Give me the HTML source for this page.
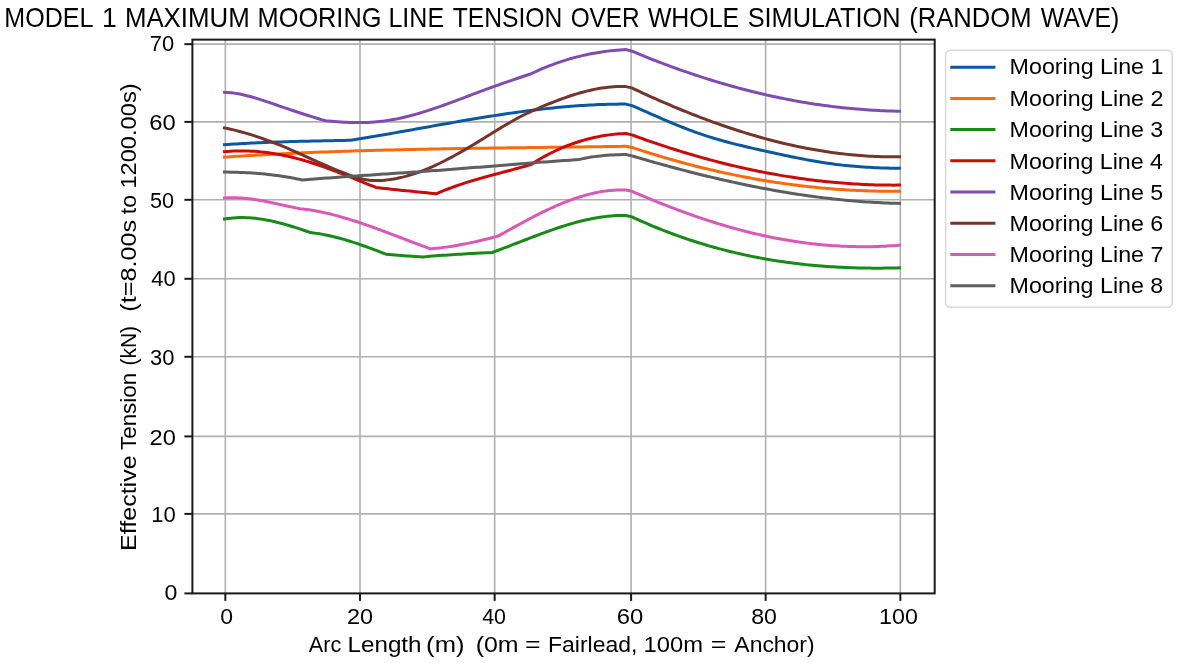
<!DOCTYPE html>
<html><head><meta charset="utf-8"><title>Model 1 maximum mooring line tension</title>
<style>
html,body{margin:0;padding:0;background:#fff;}
body{width:1181px;height:663px;overflow:hidden;}
svg{display:block;}
text{font-family:"Liberation Sans", sans-serif;fill:#000;white-space:pre;}
</style></head><body>
<svg width="1181" height="663" viewBox="0 0 1181 663">
<defs><filter id="b" x="0" y="0" width="1" height="1" color-interpolation-filters="sRGB"><feOffset dx="0" dy="0"/></filter></defs>
<g filter="url(#b)">
<rect width="1181" height="663" fill="#fff"/>
<g stroke="#b0b0b0" stroke-width="1.6"><line x1="225.33" y1="39.64" x2="225.33" y2="593.4"/><line x1="359.99" y1="39.64" x2="359.99" y2="593.4"/><line x1="494.65" y1="39.64" x2="494.65" y2="593.4"/><line x1="631.1" y1="39.64" x2="631.1" y2="593.4"/><line x1="765.63" y1="39.64" x2="765.63" y2="593.4"/><line x1="900.33" y1="39.64" x2="900.33" y2="593.4"/><line x1="192.4" y1="513.9" x2="934.7" y2="513.9"/><line x1="192.4" y1="436.4" x2="934.7" y2="436.4"/><line x1="192.4" y1="356.8" x2="934.7" y2="356.8"/><line x1="192.4" y1="278.8" x2="934.7" y2="278.8"/><line x1="192.4" y1="199.8" x2="934.7" y2="199.8"/><line x1="192.4" y1="121.9" x2="934.7" y2="121.9"/><line x1="192.4" y1="44.16" x2="934.7" y2="44.16"/></g>
<g fill="none" stroke-width="3.0" stroke-linejoin="round" stroke-linecap="square">
<path stroke="#0a58a4" d="M224.50,144.70 L227.50,144.49 L230.51,144.29 L233.51,144.09 L236.52,143.91 L239.52,143.73 L242.53,143.56 L245.53,143.39 L248.54,143.23 L251.54,143.08 L254.55,142.94 L257.55,142.80 L260.56,142.67 L263.56,142.54 L266.57,142.42 L269.57,142.30 L272.58,142.19 L275.58,142.08 L278.59,141.98 L281.59,141.88 L284.60,141.79 L287.60,141.70 L290.60,141.61 L293.61,141.53 L296.61,141.45 L299.62,141.37 L302.62,141.30 L305.63,141.23 L308.63,141.16 L311.64,141.09 L314.64,141.03 L317.65,140.96 L320.65,140.90 L323.66,140.84 L326.66,140.78 L329.67,140.72 L332.67,140.66 L335.68,140.60 L338.68,140.54 L341.69,140.48 L344.69,140.42 L347.70,140.36 L350.70,140.30 L353.72,139.82 L356.75,139.33 L359.77,138.83 L362.79,138.33 L365.82,137.83 L368.84,137.32 L371.86,136.81 L374.88,136.30 L377.91,135.78 L380.93,135.26 L383.95,134.73 L386.98,134.20 L390.00,133.67 L393.02,133.14 L396.05,132.61 L399.07,132.07 L402.09,131.53 L405.12,130.99 L408.14,130.45 L411.16,129.91 L414.18,129.37 L417.21,128.83 L420.23,128.29 L423.25,127.75 L426.28,127.21 L429.30,126.66 L432.32,126.12 L435.35,125.59 L438.37,125.05 L441.39,124.51 L444.42,123.98 L447.44,123.44 L450.46,122.91 L453.48,122.39 L456.51,121.86 L459.53,121.34 L462.55,120.82 L465.58,120.30 L468.60,119.79 L471.62,119.28 L474.65,118.78 L477.67,118.28 L480.69,117.79 L483.72,117.30 L486.74,116.81 L489.76,116.33 L492.78,115.86 L495.81,115.39 L498.83,114.93 L501.85,114.47 L504.88,114.02 L507.90,113.58 L510.92,113.14 L513.95,112.71 L516.97,112.29 L519.99,111.88 L523.02,111.48 L526.04,111.08 L529.06,110.69 L532.08,110.31 L535.11,109.94 L538.13,109.58 L541.15,109.22 L544.18,108.88 L547.20,108.55 L550.22,108.22 L553.25,107.91 L556.27,107.61 L559.29,107.31 L562.32,107.03 L565.34,106.76 L568.36,106.51 L571.38,106.26 L574.41,106.03 L577.43,105.80 L580.45,105.59 L583.48,105.40 L586.50,105.21 L589.52,105.04 L592.55,104.88 L595.57,104.74 L598.59,104.61 L601.62,104.49 L604.64,104.39 L607.66,104.30 L610.68,104.23 L613.71,104.17 L616.73,104.13 L619.75,104.11 L622.78,104.09 L625.80,104.10 L632.00,105.60 L635.00,106.91 L638.01,108.23 L641.01,109.56 L644.02,110.88 L647.02,112.20 L650.03,113.52 L653.03,114.84 L656.04,116.16 L659.04,117.46 L662.04,118.76 L665.05,120.05 L668.05,121.33 L671.06,122.59 L674.06,123.84 L677.07,125.08 L680.07,126.29 L683.08,127.49 L686.08,128.66 L689.09,129.81 L692.09,130.94 L695.09,132.04 L698.10,133.11 L701.10,134.16 L704.11,135.17 L707.11,136.15 L710.12,137.11 L713.12,138.03 L716.13,138.93 L719.13,139.80 L722.13,140.65 L725.14,141.48 L728.14,142.29 L731.15,143.08 L734.15,143.84 L737.16,144.60 L740.16,145.33 L743.17,146.06 L746.17,146.77 L749.18,147.47 L752.18,148.16 L755.18,148.84 L758.19,149.51 L761.19,150.18 L764.20,150.85 L767.20,151.51 L770.21,152.17 L773.21,152.83 L776.22,153.48 L779.22,154.13 L782.22,154.78 L785.23,155.41 L788.23,156.04 L791.24,156.66 L794.24,157.28 L797.25,157.88 L800.25,158.47 L803.26,159.05 L806.26,159.62 L809.27,160.17 L812.27,160.71 L815.27,161.24 L818.28,161.74 L821.28,162.23 L824.29,162.71 L827.29,163.16 L830.30,163.59 L833.30,164.01 L836.31,164.40 L839.31,164.77 L842.31,165.12 L845.32,165.44 L848.32,165.75 L851.33,166.03 L854.33,166.30 L857.34,166.54 L860.34,166.77 L863.35,166.98 L866.35,167.17 L869.36,167.35 L872.36,167.51 L875.36,167.65 L878.37,167.78 L881.37,167.89 L884.38,167.99 L887.38,168.08 L890.39,168.15 L893.39,168.21 L896.40,168.26 L899.40,168.30"/>
<path stroke="#ff6a08" d="M224.50,157.10 L227.52,156.90 L230.53,156.71 L233.55,156.51 L236.57,156.32 L239.59,156.14 L242.60,155.96 L245.62,155.78 L248.64,155.60 L251.66,155.42 L254.67,155.25 L257.69,155.08 L260.71,154.92 L263.72,154.75 L266.74,154.59 L269.76,154.43 L272.78,154.28 L275.79,154.13 L278.81,153.98 L281.83,153.83 L284.85,153.68 L287.86,153.54 L290.88,153.40 L293.90,153.26 L296.92,153.13 L299.93,152.99 L302.95,152.86 L305.97,152.73 L308.98,152.61 L312.00,152.48 L315.02,152.36 L318.04,152.24 L321.05,152.12 L324.07,152.01 L327.09,151.90 L330.11,151.78 L333.12,151.68 L336.14,151.57 L339.16,151.46 L342.17,151.36 L345.19,151.26 L348.21,151.16 L351.23,151.06 L354.24,150.97 L357.26,150.87 L360.28,150.78 L363.30,150.69 L366.31,150.60 L369.33,150.51 L372.35,150.43 L375.36,150.35 L378.38,150.26 L381.40,150.18 L384.42,150.10 L387.43,150.03 L390.45,149.95 L393.47,149.88 L396.49,149.80 L399.50,149.73 L402.52,149.66 L405.54,149.59 L408.55,149.53 L411.57,149.46 L414.59,149.40 L417.61,149.33 L420.62,149.27 L423.64,149.21 L426.66,149.15 L429.68,149.09 L432.69,149.03 L435.71,148.98 L438.73,148.92 L441.75,148.87 L444.76,148.81 L447.78,148.76 L450.80,148.71 L453.81,148.66 L456.83,148.61 L459.85,148.56 L462.87,148.51 L465.88,148.46 L468.90,148.41 L471.92,148.37 L474.94,148.32 L477.95,148.28 L480.97,148.23 L483.99,148.19 L487.00,148.15 L490.02,148.10 L493.04,148.06 L496.06,148.02 L499.07,147.98 L502.09,147.94 L505.11,147.90 L508.13,147.86 L511.14,147.82 L514.16,147.78 L517.18,147.74 L520.19,147.70 L523.21,147.67 L526.23,147.63 L529.25,147.59 L532.26,147.55 L535.28,147.51 L538.30,147.48 L541.32,147.44 L544.33,147.40 L547.35,147.37 L550.37,147.33 L553.38,147.29 L556.40,147.25 L559.42,147.21 L562.44,147.18 L565.45,147.14 L568.47,147.10 L571.49,147.06 L574.51,147.02 L577.52,146.98 L580.54,146.95 L583.56,146.91 L586.58,146.87 L589.59,146.83 L592.61,146.78 L595.63,146.74 L598.64,146.70 L601.66,146.66 L604.68,146.62 L607.70,146.57 L610.71,146.53 L613.73,146.48 L616.75,146.44 L619.77,146.39 L622.78,146.35 L625.80,146.30 L632.00,147.40 L635.00,148.40 L638.01,149.38 L641.01,150.35 L644.02,151.31 L647.02,152.26 L650.03,153.20 L653.03,154.13 L656.04,155.04 L659.04,155.95 L662.04,156.84 L665.05,157.73 L668.05,158.60 L671.06,159.46 L674.06,160.31 L677.07,161.14 L680.07,161.97 L683.08,162.78 L686.08,163.59 L689.09,164.38 L692.09,165.16 L695.09,165.93 L698.10,166.69 L701.10,167.44 L704.11,168.17 L707.11,168.90 L710.12,169.61 L713.12,170.31 L716.13,171.00 L719.13,171.68 L722.13,172.35 L725.14,173.00 L728.14,173.65 L731.15,174.28 L734.15,174.90 L737.16,175.51 L740.16,176.11 L743.17,176.70 L746.17,177.28 L749.18,177.84 L752.18,178.39 L755.18,178.93 L758.19,179.47 L761.19,179.98 L764.20,180.49 L767.20,180.99 L770.21,181.47 L773.21,181.94 L776.22,182.41 L779.22,182.85 L782.22,183.29 L785.23,183.72 L788.23,184.13 L791.24,184.54 L794.24,184.93 L797.25,185.31 L800.25,185.68 L803.26,186.04 L806.26,186.38 L809.27,186.72 L812.27,187.04 L815.27,187.35 L818.28,187.65 L821.28,187.94 L824.29,188.21 L827.29,188.48 L830.30,188.73 L833.30,188.97 L836.31,189.20 L839.31,189.42 L842.31,189.62 L845.32,189.82 L848.32,190.00 L851.33,190.17 L854.33,190.33 L857.34,190.47 L860.34,190.61 L863.35,190.73 L866.35,190.85 L869.36,190.95 L872.36,191.03 L875.36,191.11 L878.37,191.18 L881.37,191.23 L884.38,191.27 L887.38,191.30 L890.39,191.32 L893.39,191.32 L896.40,191.32 L899.40,191.30"/>
<path stroke="#168c16" d="M224.50,219.00 L227.57,218.53 L230.64,218.16 L233.71,217.88 L236.79,217.70 L239.86,217.60 L242.93,217.59 L246.00,217.66 L249.07,217.81 L252.14,218.03 L255.21,218.33 L258.29,218.70 L261.36,219.13 L264.43,219.63 L267.50,220.19 L270.57,220.80 L273.64,221.47 L276.71,222.19 L279.79,222.96 L282.86,223.77 L285.93,224.63 L289.00,225.52 L292.07,226.45 L295.14,227.41 L298.21,228.41 L301.29,229.42 L304.36,230.46 L307.43,231.52 L310.50,232.60 L313.52,232.96 L316.54,233.38 L319.56,233.85 L322.58,234.38 L325.60,234.96 L328.62,235.59 L331.64,236.27 L334.66,236.99 L337.68,237.76 L340.70,238.57 L343.72,239.42 L346.74,240.30 L349.76,241.23 L352.78,242.18 L355.80,243.16 L358.82,244.17 L361.84,245.21 L364.86,246.27 L367.88,247.36 L370.90,248.46 L373.92,249.58 L376.94,250.72 L379.96,251.87 L382.98,253.03 L386.00,254.20 L404.10,255.70 L423.40,256.90 L426.52,256.62 L429.65,256.35 L432.77,256.09 L435.89,255.84 L439.01,255.60 L442.14,255.37 L445.26,255.15 L448.38,254.93 L451.50,254.73 L454.63,254.53 L457.75,254.33 L460.87,254.15 L464.00,253.97 L467.12,253.79 L470.24,253.62 L473.36,253.45 L476.49,253.29 L479.61,253.12 L482.73,252.97 L485.85,252.81 L488.98,252.65 L492.10,252.50 L495.14,251.39 L498.19,250.26 L501.23,249.12 L504.27,247.96 L507.32,246.80 L510.36,245.63 L513.40,244.45 L516.45,243.27 L519.49,242.09 L522.53,240.91 L525.58,239.73 L528.62,238.56 L531.66,237.40 L534.70,236.24 L537.75,235.09 L540.79,233.96 L543.83,232.84 L546.88,231.73 L549.92,230.65 L552.96,229.59 L556.01,228.54 L559.05,227.53 L562.09,226.54 L565.14,225.58 L568.18,224.65 L571.22,223.75 L574.27,222.89 L577.31,222.06 L580.35,221.28 L583.40,220.53 L586.44,219.83 L589.48,219.17 L592.52,218.56 L595.57,218.00 L598.61,217.48 L601.65,217.02 L604.70,216.62 L607.74,216.27 L610.78,215.99 L613.83,215.76 L616.87,215.59 L619.91,215.50 L622.96,215.46 L626.00,215.50 L631.50,216.70 L634.51,218.10 L637.52,219.47 L640.53,220.83 L643.54,222.16 L646.55,223.47 L649.56,224.75 L652.57,226.02 L655.58,227.26 L658.59,228.49 L661.60,229.69 L664.61,230.86 L667.62,232.02 L670.63,233.16 L673.64,234.28 L676.65,235.37 L679.66,236.45 L682.67,237.50 L685.68,238.53 L688.69,239.55 L691.70,240.54 L694.71,241.51 L697.72,242.47 L700.73,243.40 L703.74,244.31 L706.75,245.21 L709.76,246.08 L712.77,246.94 L715.78,247.77 L718.79,248.59 L721.80,249.39 L724.81,250.17 L727.82,250.93 L730.83,251.67 L733.84,252.40 L736.85,253.10 L739.86,253.79 L742.87,254.46 L745.88,255.12 L748.89,255.75 L751.90,256.37 L754.91,256.97 L757.92,257.55 L760.93,258.12 L763.94,258.66 L766.96,259.19 L769.97,259.71 L772.98,260.21 L775.99,260.69 L779.00,261.15 L782.01,261.60 L785.02,262.03 L788.03,262.45 L791.04,262.85 L794.05,263.24 L797.06,263.61 L800.07,263.96 L803.08,264.30 L806.09,264.62 L809.10,264.93 L812.11,265.22 L815.12,265.50 L818.13,265.77 L821.14,266.01 L824.15,266.25 L827.16,266.47 L830.17,266.68 L833.18,266.87 L836.19,267.05 L839.20,267.21 L842.21,267.36 L845.22,267.50 L848.23,267.62 L851.24,267.73 L854.25,267.83 L857.26,267.91 L860.27,267.99 L863.28,268.04 L866.29,268.09 L869.30,268.12 L872.31,268.14 L875.32,268.15 L878.33,268.15 L881.34,268.14 L884.35,268.11 L887.36,268.07 L890.37,268.02 L893.38,267.96 L896.39,267.88 L899.40,267.80"/>
<path stroke="#cc0a0a" d="M224.50,151.70 L227.53,151.44 L230.56,151.23 L233.59,151.07 L236.62,150.96 L239.65,150.91 L242.68,150.90 L245.71,150.94 L248.74,151.04 L251.77,151.18 L254.80,151.37 L257.83,151.60 L260.86,151.88 L263.89,152.21 L266.92,152.58 L269.95,152.99 L272.98,153.45 L276.01,153.95 L279.04,154.49 L282.07,155.08 L285.10,155.70 L288.13,156.36 L291.16,157.06 L294.19,157.81 L297.22,158.58 L300.25,159.40 L303.28,160.25 L306.31,161.14 L309.34,162.06 L312.37,163.02 L315.40,164.01 L318.43,165.03 L321.46,166.08 L324.49,167.15 L327.52,168.25 L330.55,169.38 L333.58,170.52 L336.61,171.68 L339.64,172.85 L342.67,174.04 L345.70,175.25 L348.73,176.46 L351.76,177.68 L354.79,178.90 L357.82,180.13 L360.85,181.36 L363.88,182.59 L366.91,183.81 L369.94,185.02 L372.97,186.22 L376.00,187.40 L379.01,187.78 L382.03,188.15 L385.05,188.51 L388.06,188.86 L391.07,189.19 L394.09,189.52 L397.11,189.83 L400.12,190.14 L403.13,190.45 L406.15,190.75 L409.17,191.05 L412.18,191.34 L415.19,191.64 L418.21,191.93 L421.23,192.23 L424.24,192.53 L427.25,192.84 L430.27,193.15 L433.29,193.47 L436.30,193.80 L439.36,192.47 L442.42,191.18 L445.48,189.94 L448.55,188.75 L451.61,187.60 L454.67,186.48 L457.73,185.40 L460.79,184.36 L463.85,183.35 L466.91,182.37 L469.97,181.42 L473.04,180.49 L476.10,179.58 L479.16,178.70 L482.22,177.83 L485.28,176.98 L488.34,176.14 L491.40,175.32 L494.46,174.50 L497.53,173.69 L500.59,172.88 L503.65,172.07 L506.71,171.27 L509.77,170.46 L512.83,169.64 L515.89,168.82 L518.95,167.98 L522.02,167.14 L525.08,166.28 L528.14,165.40 L531.20,164.50 L534.25,162.54 L537.30,160.65 L540.35,158.83 L543.41,157.07 L546.46,155.39 L549.51,153.78 L552.56,152.23 L555.61,150.75 L558.66,149.34 L561.72,147.99 L564.77,146.71 L567.82,145.49 L570.87,144.34 L573.92,143.24 L576.97,142.21 L580.03,141.24 L583.08,140.33 L586.13,139.48 L589.18,138.69 L592.23,137.95 L595.28,137.28 L598.34,136.66 L601.39,136.09 L604.44,135.58 L607.49,135.13 L610.54,134.73 L613.59,134.38 L616.65,134.08 L619.70,133.84 L622.75,133.64 L625.80,133.50 L632.00,134.90 L635.00,136.00 L638.01,137.09 L641.01,138.17 L644.02,139.24 L647.02,140.30 L650.03,141.34 L653.03,142.38 L656.04,143.40 L659.04,144.41 L662.04,145.41 L665.05,146.40 L668.05,147.38 L671.06,148.34 L674.06,149.30 L677.07,150.24 L680.07,151.17 L683.08,152.09 L686.08,153.00 L689.09,153.90 L692.09,154.78 L695.09,155.65 L698.10,156.51 L701.10,157.36 L704.11,158.20 L707.11,159.02 L710.12,159.84 L713.12,160.64 L716.13,161.42 L719.13,162.20 L722.13,162.96 L725.14,163.72 L728.14,164.46 L731.15,165.18 L734.15,165.90 L737.16,166.60 L740.16,167.29 L743.17,167.97 L746.17,168.63 L749.18,169.29 L752.18,169.93 L755.18,170.55 L758.19,171.17 L761.19,171.77 L764.20,172.36 L767.20,172.94 L770.21,173.50 L773.21,174.05 L776.22,174.59 L779.22,175.12 L782.22,175.63 L785.23,176.13 L788.23,176.61 L791.24,177.09 L794.24,177.55 L797.25,178.00 L800.25,178.43 L803.26,178.85 L806.26,179.26 L809.27,179.65 L812.27,180.03 L815.27,180.40 L818.28,180.75 L821.28,181.09 L824.29,181.42 L827.29,181.73 L830.30,182.03 L833.30,182.32 L836.31,182.59 L839.31,182.85 L842.31,183.10 L845.32,183.33 L848.32,183.55 L851.33,183.75 L854.33,183.94 L857.34,184.12 L860.34,184.28 L863.35,184.43 L866.35,184.56 L869.36,184.68 L872.36,184.79 L875.36,184.88 L878.37,184.96 L881.37,185.02 L884.38,185.07 L887.38,185.10 L890.39,185.12 L893.39,185.13 L896.40,185.12 L899.40,185.10"/>
<path stroke="#7f4db2" d="M224.50,92.40 L227.56,92.52 L230.62,92.76 L233.68,93.11 L236.74,93.55 L239.80,94.09 L242.86,94.72 L245.92,95.42 L248.98,96.19 L252.05,97.03 L255.11,97.91 L258.17,98.85 L261.23,99.82 L264.29,100.83 L267.35,101.86 L270.41,102.90 L273.47,103.95 L276.53,105.01 L279.59,106.06 L282.65,107.11 L285.71,108.15 L288.77,109.19 L291.83,110.22 L294.89,111.24 L297.95,112.25 L301.02,113.25 L304.08,114.24 L307.14,115.22 L310.20,116.17 L313.26,117.12 L316.32,118.04 L319.38,118.95 L322.44,119.83 L325.50,120.70 L328.53,120.99 L331.55,121.26 L334.58,121.52 L337.61,121.75 L340.63,121.95 L343.66,122.13 L346.69,122.28 L349.71,122.40 L352.74,122.49 L355.76,122.55 L358.79,122.56 L361.82,122.54 L364.84,122.48 L367.87,122.38 L370.90,122.23 L373.92,122.04 L376.95,121.80 L379.98,121.51 L383.00,121.16 L386.03,120.76 L389.06,120.31 L392.08,119.80 L395.11,119.25 L398.14,118.65 L401.16,118.00 L404.19,117.30 L407.21,116.57 L410.24,115.80 L413.27,114.98 L416.29,114.14 L419.32,113.26 L422.35,112.35 L425.37,111.40 L428.40,110.44 L431.43,109.44 L434.45,108.43 L437.48,107.39 L440.51,106.33 L443.53,105.26 L446.56,104.17 L449.59,103.07 L452.61,101.95 L455.64,100.83 L458.66,99.69 L461.69,98.55 L464.72,97.41 L467.74,96.26 L470.77,95.12 L473.80,93.97 L476.82,92.83 L479.85,91.69 L482.88,90.55 L485.90,89.43 L488.93,88.32 L491.96,87.22 L494.98,86.13 L498.01,85.05 L501.04,83.98 L504.06,82.93 L507.09,81.88 L510.11,80.84 L513.14,79.81 L516.17,78.79 L519.19,77.76 L522.22,76.75 L525.25,75.73 L528.27,74.72 L531.30,73.70 L534.36,72.24 L537.42,70.84 L540.48,69.48 L543.55,68.17 L546.61,66.91 L549.67,65.70 L552.73,64.53 L555.79,63.41 L558.85,62.34 L561.91,61.31 L564.97,60.33 L568.04,59.39 L571.10,58.50 L574.16,57.65 L577.22,56.85 L580.28,56.09 L583.34,55.37 L586.40,54.70 L589.46,54.06 L592.53,53.47 L595.59,52.92 L598.65,52.41 L601.71,51.94 L604.77,51.51 L607.83,51.13 L610.89,50.78 L613.95,50.46 L617.02,50.19 L620.08,49.96 L623.14,49.76 L626.20,49.60 L632.00,51.20 L635.00,52.46 L638.01,53.70 L641.01,54.93 L644.02,56.15 L647.02,57.36 L650.03,58.55 L653.03,59.74 L656.04,60.91 L659.04,62.06 L662.04,63.21 L665.05,64.34 L668.05,65.46 L671.06,66.56 L674.06,67.66 L677.07,68.74 L680.07,69.81 L683.08,70.86 L686.08,71.90 L689.09,72.93 L692.09,73.95 L695.09,74.96 L698.10,75.95 L701.10,76.92 L704.11,77.89 L707.11,78.84 L710.12,79.78 L713.12,80.70 L716.13,81.62 L719.13,82.52 L722.13,83.40 L725.14,84.28 L728.14,85.13 L731.15,85.98 L734.15,86.81 L737.16,87.63 L740.16,88.44 L743.17,89.23 L746.17,90.01 L749.18,90.78 L752.18,91.53 L755.18,92.27 L758.19,92.99 L761.19,93.71 L764.20,94.40 L767.20,95.09 L770.21,95.76 L773.21,96.41 L776.22,97.06 L779.22,97.69 L782.22,98.30 L785.23,98.90 L788.23,99.49 L791.24,100.07 L794.24,100.63 L797.25,101.17 L800.25,101.70 L803.26,102.22 L806.26,102.73 L809.27,103.22 L812.27,103.69 L815.27,104.15 L818.28,104.60 L821.28,105.03 L824.29,105.45 L827.29,105.86 L830.30,106.25 L833.30,106.62 L836.31,106.98 L839.31,107.33 L842.31,107.66 L845.32,107.98 L848.32,108.28 L851.33,108.57 L854.33,108.85 L857.34,109.11 L860.34,109.35 L863.35,109.59 L866.35,109.80 L869.36,110.00 L872.36,110.19 L875.36,110.36 L878.37,110.52 L881.37,110.66 L884.38,110.79 L887.38,110.90 L890.39,111.00 L893.39,111.08 L896.40,111.15 L899.40,111.20"/>
<path stroke="#77342a" d="M224.50,127.90 L227.52,128.53 L230.53,129.20 L233.55,129.91 L236.57,130.66 L239.59,131.45 L242.60,132.27 L245.62,133.12 L248.64,134.01 L251.66,134.94 L254.67,135.90 L257.69,136.89 L260.71,137.91 L263.72,138.97 L266.74,140.05 L269.76,141.17 L272.78,142.31 L275.79,143.49 L278.81,144.69 L281.83,145.92 L284.85,147.18 L287.86,148.46 L290.88,149.77 L293.90,151.10 L296.92,152.44 L299.93,153.80 L302.95,155.16 L305.97,156.54 L308.98,157.91 L312.00,159.28 L315.02,160.64 L318.04,162.00 L321.05,163.34 L324.07,164.67 L327.09,165.97 L330.11,167.26 L333.12,168.54 L336.14,169.79 L339.16,171.04 L342.17,172.26 L345.19,173.46 L348.21,174.62 L351.23,175.72 L354.24,176.74 L357.26,177.68 L360.28,178.50 L363.30,179.20 L366.31,179.76 L369.33,180.16 L372.35,180.41 L375.36,180.53 L378.38,180.51 L381.40,180.39 L384.42,180.16 L387.43,179.85 L390.45,179.46 L393.47,178.99 L396.49,178.44 L399.50,177.82 L402.52,177.13 L405.54,176.36 L408.55,175.52 L411.57,174.62 L414.59,173.65 L417.61,172.61 L420.62,171.52 L423.64,170.36 L426.66,169.14 L429.68,167.87 L432.69,166.55 L435.71,165.17 L438.73,163.74 L441.75,162.27 L444.76,160.76 L447.78,159.20 L450.80,157.60 L453.81,155.97 L456.83,154.30 L459.85,152.60 L462.87,150.88 L465.88,149.12 L468.90,147.34 L471.92,145.55 L474.94,143.73 L477.95,141.89 L480.97,140.04 L483.99,138.18 L487.00,136.32 L490.02,134.44 L493.04,132.57 L496.06,130.71 L499.07,128.86 L502.09,127.03 L505.11,125.23 L508.13,123.45 L511.14,121.71 L514.16,120.02 L517.18,118.37 L520.19,116.77 L523.21,115.23 L526.23,113.75 L529.25,112.31 L532.26,110.92 L535.28,109.57 L538.30,108.25 L541.32,106.97 L544.33,105.70 L547.35,104.46 L550.37,103.24 L553.38,102.05 L556.40,100.88 L559.42,99.74 L562.44,98.63 L565.45,97.55 L568.47,96.51 L571.49,95.51 L574.51,94.55 L577.52,93.63 L580.54,92.76 L583.56,91.93 L586.58,91.16 L589.59,90.43 L592.61,89.76 L595.63,89.14 L598.64,88.59 L601.66,88.09 L604.68,87.66 L607.70,87.29 L610.71,87.00 L613.73,86.77 L616.75,86.61 L619.77,86.53 L622.78,86.53 L625.80,86.60 L631.80,87.90 L634.81,89.32 L637.81,90.73 L640.82,92.13 L643.83,93.52 L646.83,94.90 L649.84,96.27 L652.85,97.62 L655.85,98.96 L658.86,100.29 L661.87,101.61 L664.87,102.92 L667.88,104.21 L670.89,105.49 L673.89,106.76 L676.90,108.01 L679.91,109.26 L682.91,110.49 L685.92,111.70 L688.93,112.91 L691.93,114.10 L694.94,115.27 L697.95,116.43 L700.96,117.58 L703.96,118.72 L706.97,119.84 L709.98,120.95 L712.98,122.04 L715.99,123.12 L719.00,124.18 L722.00,125.23 L725.01,126.26 L728.02,127.28 L731.02,128.29 L734.03,129.28 L737.04,130.25 L740.04,131.21 L743.05,132.16 L746.06,133.08 L749.06,134.00 L752.07,134.89 L755.08,135.77 L758.08,136.64 L761.09,137.48 L764.10,138.32 L767.10,139.13 L770.11,139.93 L773.12,140.71 L776.12,141.48 L779.13,142.22 L782.14,142.95 L785.14,143.67 L788.15,144.36 L791.16,145.04 L794.16,145.70 L797.17,146.35 L800.18,146.97 L803.18,147.58 L806.19,148.17 L809.20,148.74 L812.20,149.30 L815.21,149.83 L818.22,150.35 L821.22,150.84 L824.23,151.32 L827.24,151.78 L830.24,152.22 L833.25,152.64 L836.26,153.05 L839.27,153.43 L842.27,153.79 L845.28,154.13 L848.29,154.46 L851.29,154.76 L854.30,155.04 L857.31,155.31 L860.31,155.55 L863.32,155.77 L866.33,155.97 L869.33,156.15 L872.34,156.31 L875.35,156.45 L878.35,156.57 L881.36,156.67 L884.37,156.74 L887.37,156.80 L890.38,156.83 L893.39,156.84 L896.39,156.83 L899.40,156.80"/>
<path stroke="#dc58b6" d="M224.50,198.00 L227.52,197.82 L230.54,197.72 L233.56,197.71 L236.58,197.78 L239.60,197.92 L242.62,198.12 L245.64,198.40 L248.66,198.73 L251.68,199.11 L254.70,199.55 L257.72,200.03 L260.74,200.55 L263.76,201.10 L266.78,201.68 L269.80,202.29 L272.82,202.92 L275.84,203.56 L278.86,204.22 L281.88,204.88 L284.90,205.54 L287.92,206.20 L290.94,206.85 L293.96,207.49 L296.98,208.11 L300.00,208.70 L303.04,209.04 L306.08,209.42 L309.12,209.85 L312.16,210.33 L315.20,210.85 L318.24,211.42 L321.28,212.03 L324.32,212.67 L327.36,213.36 L330.40,214.08 L333.43,214.84 L336.47,215.64 L339.51,216.46 L342.55,217.32 L345.59,218.21 L348.63,219.12 L351.67,220.06 L354.71,221.03 L357.75,222.02 L360.79,223.03 L363.83,224.07 L366.87,225.12 L369.91,226.19 L372.95,227.27 L375.99,228.37 L379.03,229.49 L382.07,230.61 L385.11,231.74 L388.15,232.88 L391.19,234.03 L394.23,235.19 L397.27,236.35 L400.30,237.51 L403.34,238.67 L406.38,239.83 L409.42,240.99 L412.46,242.14 L415.50,243.29 L418.54,244.43 L421.58,245.56 L424.62,246.69 L427.66,247.80 L430.70,248.90 L433.76,248.61 L436.83,248.29 L439.89,247.93 L442.95,247.54 L446.02,247.13 L449.08,246.68 L452.15,246.20 L455.21,245.69 L458.27,245.16 L461.34,244.60 L464.40,244.01 L467.46,243.40 L470.53,242.76 L473.59,242.11 L476.65,241.42 L479.72,240.72 L482.78,240.00 L485.85,239.25 L488.91,238.49 L491.97,237.71 L495.04,236.91 L498.10,236.10 L501.15,234.39 L504.19,232.69 L507.24,230.99 L510.28,229.29 L513.33,227.60 L516.37,225.92 L519.42,224.26 L522.46,222.61 L525.51,220.97 L528.55,219.36 L531.60,217.76 L534.64,216.19 L537.69,214.64 L540.73,213.12 L543.78,211.63 L546.82,210.17 L549.87,208.74 L552.91,207.35 L555.96,205.99 L559.00,204.68 L562.05,203.40 L565.10,202.17 L568.14,200.99 L571.19,199.85 L574.23,198.76 L577.28,197.73 L580.32,196.75 L583.37,195.83 L586.41,194.96 L589.46,194.16 L592.50,193.42 L595.55,192.74 L598.59,192.13 L601.64,191.59 L604.68,191.12 L607.73,190.72 L610.77,190.40 L613.82,190.16 L616.86,189.99 L619.91,189.91 L622.95,189.91 L626.00,190.00 L631.80,191.20 L634.81,192.51 L637.81,193.80 L640.82,195.09 L643.83,196.36 L646.83,197.63 L649.84,198.88 L652.85,200.11 L655.85,201.34 L658.86,202.55 L661.87,203.75 L664.87,204.94 L667.88,206.12 L670.89,207.28 L673.89,208.42 L676.90,209.56 L679.91,210.68 L682.91,211.78 L685.92,212.88 L688.93,213.95 L691.93,215.02 L694.94,216.07 L697.95,217.10 L700.96,218.12 L703.96,219.12 L706.97,220.11 L709.98,221.08 L712.98,222.04 L715.99,222.98 L719.00,223.90 L722.00,224.81 L725.01,225.70 L728.02,226.58 L731.02,227.44 L734.03,228.28 L737.04,229.10 L740.04,229.91 L743.05,230.70 L746.06,231.47 L749.06,232.23 L752.07,232.96 L755.08,233.68 L758.08,234.38 L761.09,235.06 L764.10,235.72 L767.10,236.37 L770.11,236.99 L773.12,237.60 L776.12,238.18 L779.13,238.75 L782.14,239.30 L785.14,239.83 L788.15,240.34 L791.16,240.84 L794.16,241.31 L797.17,241.76 L800.18,242.20 L803.18,242.61 L806.19,243.01 L809.20,243.38 L812.20,243.74 L815.21,244.08 L818.22,244.39 L821.22,244.69 L824.23,244.97 L827.24,245.22 L830.24,245.46 L833.25,245.68 L836.26,245.87 L839.27,246.05 L842.27,246.20 L845.28,246.34 L848.29,246.45 L851.29,246.55 L854.30,246.62 L857.31,246.67 L860.31,246.71 L863.32,246.72 L866.33,246.71 L869.33,246.68 L872.34,246.63 L875.35,246.55 L878.35,246.46 L881.36,246.34 L884.37,246.21 L887.37,246.05 L890.38,245.87 L893.39,245.67 L896.39,245.44 L899.40,245.20"/>
<path stroke="#5e5e5e" d="M224.50,172.10 L227.61,172.12 L230.72,172.15 L233.84,172.21 L236.95,172.29 L240.06,172.39 L243.17,172.52 L246.28,172.66 L249.40,172.84 L252.51,173.03 L255.62,173.25 L258.73,173.50 L261.84,173.77 L264.96,174.08 L268.07,174.40 L271.18,174.76 L274.29,175.14 L277.40,175.56 L280.52,176.00 L283.63,176.48 L286.74,176.98 L289.85,177.52 L292.96,178.09 L296.08,178.69 L299.19,179.33 L302.30,180.00 L305.30,179.75 L308.31,179.51 L311.31,179.27 L314.31,179.03 L317.32,178.80 L320.32,178.57 L323.32,178.34 L326.33,178.11 L329.33,177.89 L332.33,177.66 L335.34,177.44 L338.34,177.23 L341.34,177.01 L344.35,176.80 L347.35,176.59 L350.35,176.37 L353.36,176.17 L356.36,175.96 L359.36,175.75 L362.37,175.54 L365.37,175.34 L368.37,175.14 L371.38,174.93 L374.38,174.73 L377.38,174.53 L380.38,174.33 L383.39,174.12 L386.39,173.92 L389.39,173.72 L392.40,173.52 L395.40,173.32 L398.40,173.12 L401.41,172.91 L404.41,172.71 L407.41,172.50 L410.42,172.30 L413.42,172.09 L416.42,171.89 L419.43,171.68 L422.43,171.47 L425.43,171.26 L428.44,171.04 L431.44,170.83 L434.44,170.61 L437.45,170.39 L440.45,170.17 L443.45,169.95 L446.46,169.72 L449.46,169.50 L452.46,169.27 L455.47,169.03 L458.47,168.80 L461.47,168.57 L464.48,168.33 L467.48,168.09 L470.48,167.85 L473.49,167.61 L476.49,167.37 L479.49,167.13 L482.50,166.89 L485.50,166.65 L488.50,166.41 L491.51,166.16 L494.51,165.92 L497.51,165.68 L500.52,165.43 L503.52,165.19 L506.52,164.95 L509.53,164.70 L512.53,164.46 L515.53,164.22 L518.53,163.98 L521.54,163.75 L524.54,163.51 L527.54,163.27 L530.55,163.04 L533.55,162.81 L536.55,162.57 L539.56,162.34 L542.56,162.12 L545.56,161.89 L548.57,161.67 L551.57,161.45 L554.57,161.23 L557.58,161.02 L560.58,160.81 L563.58,160.60 L566.59,160.39 L569.59,160.19 L572.59,159.99 L575.60,159.79 L578.60,159.60 L581.75,158.87 L584.89,158.21 L588.04,157.63 L591.19,157.10 L594.33,156.64 L597.48,156.24 L600.63,155.89 L603.77,155.59 L606.92,155.34 L610.07,155.12 L613.21,154.94 L616.36,154.79 L619.51,154.67 L622.65,154.58 L625.80,154.50 L632.00,155.90 L635.00,156.78 L638.01,157.66 L641.01,158.54 L644.02,159.40 L647.02,160.26 L650.03,161.12 L653.03,161.97 L656.04,162.82 L659.04,163.65 L662.04,164.49 L665.05,165.31 L668.05,166.13 L671.06,166.94 L674.06,167.75 L677.07,168.55 L680.07,169.34 L683.08,170.13 L686.08,170.91 L689.09,171.68 L692.09,172.45 L695.09,173.21 L698.10,173.96 L701.10,174.70 L704.11,175.44 L707.11,176.17 L710.12,176.89 L713.12,177.61 L716.13,178.31 L719.13,179.01 L722.13,179.70 L725.14,180.39 L728.14,181.06 L731.15,181.73 L734.15,182.39 L737.16,183.04 L740.16,183.68 L743.17,184.31 L746.17,184.94 L749.18,185.55 L752.18,186.16 L755.18,186.76 L758.19,187.35 L761.19,187.93 L764.20,188.50 L767.20,189.06 L770.21,189.61 L773.21,190.16 L776.22,190.69 L779.22,191.22 L782.22,191.73 L785.23,192.24 L788.23,192.73 L791.24,193.22 L794.24,193.69 L797.25,194.16 L800.25,194.62 L803.26,195.06 L806.26,195.50 L809.27,195.92 L812.27,196.33 L815.27,196.74 L818.28,197.13 L821.28,197.51 L824.29,197.88 L827.29,198.25 L830.30,198.59 L833.30,198.93 L836.31,199.26 L839.31,199.58 L842.31,199.88 L845.32,200.17 L848.32,200.46 L851.33,200.73 L854.33,200.98 L857.34,201.23 L860.34,201.47 L863.35,201.69 L866.35,201.90 L869.36,202.10 L872.36,202.28 L875.36,202.46 L878.37,202.62 L881.37,202.77 L884.38,202.91 L887.38,203.03 L890.39,203.14 L893.39,203.24 L896.40,203.33 L899.40,203.40"/>
</g>
<rect x="192.4" y="39.64" width="742.30" height="553.76" fill="none" stroke="#1a1a1a" stroke-width="2.0" stroke-linecap="square"/>
<g stroke="#1a1a1a" stroke-width="2.0"><line x1="225.33" y1="593.4" x2="225.33" y2="600.90"/><line x1="359.99" y1="593.4" x2="359.99" y2="600.90"/><line x1="494.65" y1="593.4" x2="494.65" y2="600.90"/><line x1="631.1" y1="593.4" x2="631.1" y2="600.90"/><line x1="765.63" y1="593.4" x2="765.63" y2="600.90"/><line x1="900.33" y1="593.4" x2="900.33" y2="600.90"/><line x1="192.4" y1="593.4" x2="184.40" y2="593.4"/><line x1="192.4" y1="513.9" x2="184.40" y2="513.9"/><line x1="192.4" y1="436.4" x2="184.40" y2="436.4"/><line x1="192.4" y1="356.8" x2="184.40" y2="356.8"/><line x1="192.4" y1="278.8" x2="184.40" y2="278.8"/><line x1="192.4" y1="199.8" x2="184.40" y2="199.8"/><line x1="192.4" y1="121.9" x2="184.40" y2="121.9"/><line x1="192.4" y1="44.16" x2="184.40" y2="44.16"/></g>
<g font-size="21.4"><text x="149.78" y="50.6" textLength="24.38" lengthAdjust="spacingAndGlyphs">70</text><text x="149.29" y="130.0" textLength="26.44" lengthAdjust="spacingAndGlyphs">60</text><text x="149.93" y="208.0" textLength="24.11" lengthAdjust="spacingAndGlyphs">50</text><text x="151.30" y="286.4" textLength="24.36" lengthAdjust="spacingAndGlyphs">40</text><text x="149.96" y="365.0" textLength="24.39" lengthAdjust="spacingAndGlyphs">30</text><text x="149.61" y="444.7" textLength="26.31" lengthAdjust="spacingAndGlyphs">20</text><text x="151.22" y="522.0" textLength="24.54" lengthAdjust="spacingAndGlyphs">10</text><text x="164.59" y="599.6" textLength="12.91" lengthAdjust="spacingAndGlyphs">0</text><text x="220.30" y="623.6" textLength="12.80" lengthAdjust="spacingAndGlyphs">0</text><text x="346.92" y="623.6" textLength="26.10" lengthAdjust="spacingAndGlyphs">20</text><text x="482.21" y="623.6" textLength="23.83" lengthAdjust="spacingAndGlyphs">40</text><text x="616.79" y="623.6" textLength="26.54" lengthAdjust="spacingAndGlyphs">60</text><text x="751.20" y="623.6" textLength="25.71" lengthAdjust="spacingAndGlyphs">80</text><text x="879.13" y="623.6" textLength="38.78" lengthAdjust="spacingAndGlyphs">100</text></g>
<g font-size="28.0"><text x="4.34" y="26.8" textLength="89.19" lengthAdjust="spacingAndGlyphs">MODEL</text><text x="102.07" y="26.8" textLength="14.83" lengthAdjust="spacingAndGlyphs">1</text><text x="124.88" y="26.8" textLength="124.84" lengthAdjust="spacingAndGlyphs">MAXIMUM</text><text x="257.62" y="26.8" textLength="123.77" lengthAdjust="spacingAndGlyphs">MOORING</text><text x="388.45" y="26.8" textLength="55.63" lengthAdjust="spacingAndGlyphs">LINE</text><text x="452.65" y="26.8" textLength="109.67" lengthAdjust="spacingAndGlyphs">TENSION</text><text x="570.65" y="26.8" textLength="69.09" lengthAdjust="spacingAndGlyphs">OVER</text><text x="647.89" y="26.8" textLength="91.28" lengthAdjust="spacingAndGlyphs">WHOLE</text><text x="747.66" y="26.8" textLength="152.98" lengthAdjust="spacingAndGlyphs">SIMULATION</text><text x="909.21" y="26.8" textLength="122.29" lengthAdjust="spacingAndGlyphs">(RANDOM</text><text x="1040.69" y="26.8" textLength="78.59" lengthAdjust="spacingAndGlyphs">WAVE)</text></g>
<g font-size="21.4"><text x="308.76" y="652.1" textLength="32.51" lengthAdjust="spacingAndGlyphs">Arc</text><text x="347.51" y="652.1" textLength="74.06" lengthAdjust="spacingAndGlyphs">Length</text><text x="426.11" y="652.1" textLength="38.37" lengthAdjust="spacingAndGlyphs">(m)</text><text x="475.66" y="652.1" textLength="42.89" lengthAdjust="spacingAndGlyphs">(0m</text><text x="525.09" y="652.1" textLength="15.63" lengthAdjust="spacingAndGlyphs">=</text><text x="548.01" y="652.1" textLength="89.45" lengthAdjust="spacingAndGlyphs">Fairlead,</text><text x="643.49" y="652.1" textLength="59.48" lengthAdjust="spacingAndGlyphs">100m</text><text x="710.69" y="652.1" textLength="15.63" lengthAdjust="spacingAndGlyphs">=</text><text x="734.36" y="652.1" textLength="80.27" lengthAdjust="spacingAndGlyphs">Anchor)</text></g>
<g font-size="21.4" transform="translate(136.0,0) rotate(-90)"><text x="-550.94" y="0" textLength="95.55" lengthAdjust="spacingAndGlyphs">Effective</text><text x="-449.99" y="0" textLength="77.09" lengthAdjust="spacingAndGlyphs">Tension</text><text x="-365.60" y="0" textLength="39.71" lengthAdjust="spacingAndGlyphs">(kN)</text><text x="-311.66" y="0" textLength="91.77" lengthAdjust="spacingAndGlyphs">(t=8.00s</text><text x="-214.25" y="0" textLength="19.22" lengthAdjust="spacingAndGlyphs">to</text><text x="-188.60" y="0" textLength="105.17" lengthAdjust="spacingAndGlyphs">1200.00s)</text></g>
<rect x="945.6" y="50.2" width="226.6" height="257.0" rx="4.5" ry="4.5" fill="#fff" stroke="#d8d8d8" stroke-width="1.5"/>
<g><line x1="950.3" y1="67.20" x2="995.4" y2="67.20" stroke="#0a58a4" stroke-width="3.0"/><text x="1009.59" y="74.40" font-size="21.4" textLength="153.84" lengthAdjust="spacingAndGlyphs">Mooring Line 1</text><line x1="950.3" y1="98.41" x2="995.4" y2="98.41" stroke="#ff6a08" stroke-width="3.0"/><text x="1009.59" y="105.60" font-size="21.4" textLength="153.88" lengthAdjust="spacingAndGlyphs">Mooring Line 2</text><line x1="950.3" y1="129.62" x2="995.4" y2="129.62" stroke="#168c16" stroke-width="3.0"/><text x="1009.59" y="136.80" font-size="21.4" textLength="153.73" lengthAdjust="spacingAndGlyphs">Mooring Line 3</text><line x1="950.3" y1="160.83" x2="995.4" y2="160.83" stroke="#cc0a0a" stroke-width="3.0"/><text x="1009.60" y="168.70" font-size="21.4" textLength="153.38" lengthAdjust="spacingAndGlyphs">Mooring Line 4</text><line x1="950.3" y1="192.04" x2="995.4" y2="192.04" stroke="#7f4db2" stroke-width="3.0"/><text x="1009.59" y="199.90" font-size="21.4" textLength="153.68" lengthAdjust="spacingAndGlyphs">Mooring Line 5</text><line x1="950.3" y1="223.25" x2="995.4" y2="223.25" stroke="#77342a" stroke-width="3.0"/><text x="1009.59" y="231.20" font-size="21.4" textLength="153.73" lengthAdjust="spacingAndGlyphs">Mooring Line 6</text><line x1="950.3" y1="254.46" x2="995.4" y2="254.46" stroke="#dc58b6" stroke-width="3.0"/><text x="1009.59" y="261.60" font-size="21.4" textLength="153.88" lengthAdjust="spacingAndGlyphs">Mooring Line 7</text><line x1="950.3" y1="285.67" x2="995.4" y2="285.67" stroke="#5e5e5e" stroke-width="3.0"/><text x="1009.59" y="292.60" font-size="21.4" textLength="153.72" lengthAdjust="spacingAndGlyphs">Mooring Line 8</text></g>
</g>
</svg>
</body></html>
